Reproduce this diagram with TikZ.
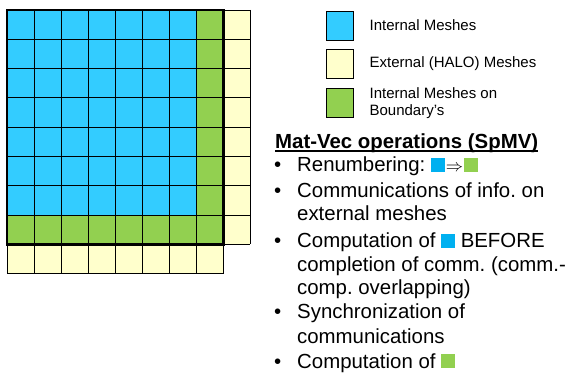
\documentclass[tikz,border=0pt]{standalone}
\usepackage{fontspec}
\setmainfont{Liberation Sans}
\usepackage{xcolor}
\usepackage{tikz}
\usetikzlibrary{positioning}

\definecolor{intblue}{HTML}{33CCFF}
\definecolor{halo}{HTML}{FFFFCC}
\definecolor{bndgreen}{HTML}{92D050}
\definecolor{markblue}{HTML}{00B0F0}

\newcommand{\bluesq}{\textcolor{markblue}{\rule{0.68em}{0.68em}}}
\newcommand{\greensq}{\textcolor{bndgreen}{\rule{0.68em}{0.68em}}}
\frenchspacing

\tikzset{
  legbox/.style={draw=black, line width=0.8pt, minimum width=27pt, minimum height=29pt, inner sep=0pt},
  legtext/.style={font=\fontsize{15}{16.7}\selectfont, anchor=west, inner sep=0pt, align=left},
  listtext/.style={font=\fontsize{20.4}{23.5}\selectfont, anchor=base west, inner sep=0pt}
}

\begin{document}
\begin{tikzpicture}[x=1pt, y=-1pt]
\useasboundingbox (0,0) rectangle (568,374);

% The meshes
\begin{scope}[shift={(7,10)}, x=27.05pt, y=-29.3pt]
  \fill[intblue] (0,0) rectangle (7,7);
  \fill[bndgreen] (7,0) rectangle (8,8);
  \fill[bndgreen] (0,7) rectangle (8,8);
  \fill[halo] (8,0) rectangle (9,8);
  \fill[halo] (0,8) rectangle (8,9);
  \foreach \i in {0,...,8} {
    \draw[line width=0.9pt] (\i,0) -- (\i,9);
    \draw[line width=0.9pt] (0,\i) -- (9,\i);
  }
  \draw[line width=0.9pt] (9,0) -- (9,8);
  \draw[line width=0.9pt] (0,9) -- (8,9);
  \draw[line width=2.4pt] (0,0) rectangle (8,8);
\end{scope}

% The legend
\node[legbox, fill=intblue] (legint) at (340,25.5) {};
\node[legbox, fill=halo] (leghalo) at (340,64) {};
\node[legbox, fill=bndgreen] (legbnd) at (340,103) {};
\node[legtext, right=15.5pt of legint] (txtint) {Internal Meshes};
\node[legtext, right=15.5pt of leghalo] (txthalo) {External (HALO) Meshes};
\node[legtext, right=15.5pt of legbnd] (txtbnd) {Internal Meshes on\\Boundary’s};

% The list
\node[listtext] (title) at (275,148.5) {\textbf{Mat-Vec operations (SpMV)}};
\draw[line width=1.3pt] ([yshift=-2.5pt]title.base west) -- ([yshift=-2.5pt]title.base east);

\foreach \y [count=\k] in {172,197.5,248,319,368}
  \node[listtext] (bul\k) at (274,\y) {\textbullet};

\foreach \y/\txt [count=\k] in {
    172/{Renumbering: \bluesq\kern1pt{\fontsize{18}{18}\selectfont$\Rightarrow$}\kern1pt\greensq},
    197.5/{Communications of info. on},
    221/{external meshes},
    248/{Computation of \bluesq\ BEFORE},
    271.5/{completion of comm. (comm.-},
    294.5/{comp. overlapping)},
    319/{Synchronization of},
    343/{communications},
    368/{Computation of \greensq}}
  \node[listtext] (line\k) at (297,\y) {\txt};
\end{tikzpicture}
\end{document}
